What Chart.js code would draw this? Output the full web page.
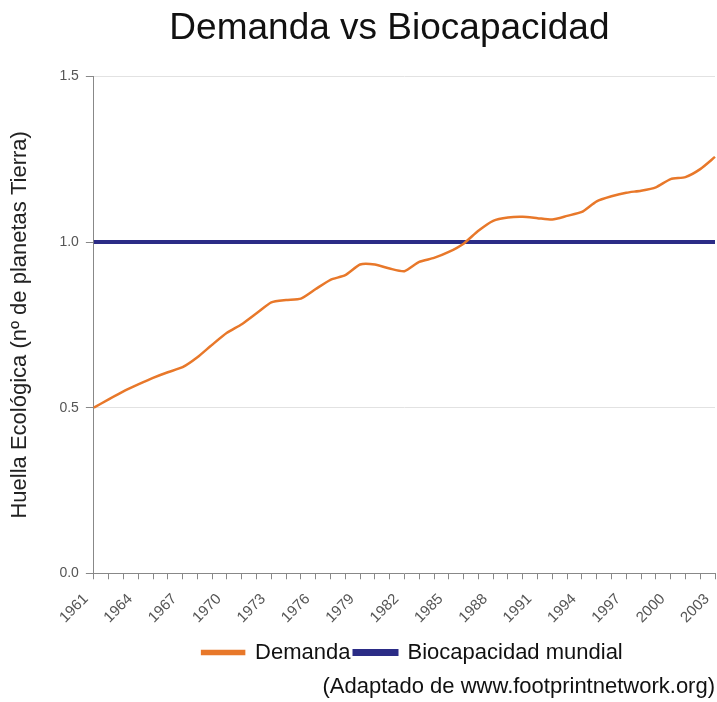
<!DOCTYPE html>
<html>
<head>
<meta charset="utf-8">
<script src="https://cdn.jsdelivr.net/npm/chart.js@4.4.1/dist/chart.umd.min.js"></script>
<style>
  html, body { margin: 0; padding: 0; background: #fff; }
  #wrap { width: 717px; height: 702px; }
</style>
</head>
<body>
<div id="wrap"><canvas id="c" width="717" height="702"></canvas></div>
<script>
const years = [1961,1962,1963,1964,1965,1966,1967,1968,1969,1970,1971,1972,1973,1974,1975,1976,1977,1978,1979,1980,1981,1982,1983,1984,1985,1986,1987,1988,1989,1990,1991,1992,1993,1994,1995,1996,1997,1998,1999,2000,2001,2002,2003];
const demanda = [0.50,0.525,0.549,0.57,0.59,0.607,0.622,0.652,0.69,0.726,0.752,0.785,0.818,0.825,0.829,0.858,0.886,0.90,0.932,0.932,0.92,0.912,0.94,0.952,0.97,0.995,1.034,1.064,1.074,1.076,1.072,1.068,1.079,1.091,1.123,1.138,1.149,1.155,1.165,1.19,1.196,1.22,1.257];
const biocapacidad = [1,1,1,1,1,1,1,1,1,1,1,1,1,1,1,1,1,1,1,1,1,1,1,1,1,1,1,1,1,1,1,1,1,1,1,1,1,1,1,1,1,1,1];
const yTicks = [0.0, 0.5, 1.0, 1.5];
const titleText = 'Demanda vs Biocapacidad';
const yTitle = 'Huella Ecológica (nº de planetas Tierra)';
const sourceText = '(Adaptado de www.footprintnetwork.org)';
const seriesNames = ['Demanda', 'Biocapacidad mundial'];

const FONT = "'Liberation Sans', Arial, sans-serif";
const ORANGE = '#E8782A';
const NAVY = '#2B2C86';

// nudges the title and legend horizontally, as in the original layout
const nudgeBoxes = {
  id: 'nudgeBoxes',
  afterLayout(chart) {
    if (chart.titleBlock) { chart.titleBlock.left -= 30; }
    if (chart.legend) { chart.legend.left += 8; chart.legend.right += 8; }
  }
};

new Chart(document.getElementById('c'), {
  type: 'line',
  data: {
    labels: years.map(String),
    datasets: [
      { label: seriesNames[0], data: demanda, borderColor: ORANGE, backgroundColor: ORANGE,
        borderWidth: 2.5, pointRadius: 0, tension: 0.2, order: 1 },
      { label: seriesNames[1], data: biocapacidad, borderColor: NAVY, backgroundColor: NAVY,
        borderWidth: 4, pointRadius: 0, tension: 0, order: 2 }
    ]
  },
  plugins: [nudgeBoxes],
  options: {
    responsive: false,
    animation: false,
    devicePixelRatio: 1,
    layout: { padding: { left: 7, right: 2, top: 4, bottom: 0 } },
    plugins: {
      title: {
        display: true, text: titleText, fullSize: false, color: '#111',
        font: { family: FONT, size: 37, weight: 'normal' },
        padding: { top: 3, bottom: 25 }
      },
      subtitle: {
        display: true, text: sourceText, position: 'bottom', align: 'end', color: '#111',
        font: { family: FONT, size: 22, weight: 'normal' },
        padding: { top: 0, bottom: 2 }, weight: 2000
      },
      legend: {
        position: 'bottom', fullSize: false, weight: 1000,
        labels: {
          boxWidth: 42, boxHeight: 3, color: '#111', padding: 4,
          font: { family: FONT, size: 22 }
        }
      },
      tooltip: { enabled: false }
    },
    scales: {
      x: {
        offset: false,
        afterFit: function(scale) { scale.paddingRight = 0; },
        border: { display: true, color: '#888', width: 1 },
        grid: { display: true, drawOnChartArea: false, drawTicks: true, tickLength: 6, color: '#888' },
        ticks: {
          autoSkip: false, maxRotation: 45, minRotation: 45, color: '#555', padding: 11,
          labelOffset: -8,
          font: { family: FONT, size: 15 },
          callback: function(v, i) { return (years[i] - 1961) % 3 === 0 ? years[i] : ''; }
        }
      },
      y: {
        min: 0, max: 1.5,
        afterBuildTicks: function(scale) { scale.ticks = yTicks.map(v => ({ value: v })); },
        border: { display: true, color: '#888', width: 1 },
        grid: { color: '#e2e2e2', tickColor: '#888', tickLength: 8, drawTicks: true },
        ticks: {
          color: '#555', padding: 7, font: { family: FONT, size: 14 },
          callback: v => v.toFixed(1)
        },
        title: {
          display: true, text: yTitle, color: '#222',
          font: { family: FONT, size: 22 }, padding: { top: 0, bottom: 19 }
        }
      }
    }
  }
});
</script>
</body>
</html>
